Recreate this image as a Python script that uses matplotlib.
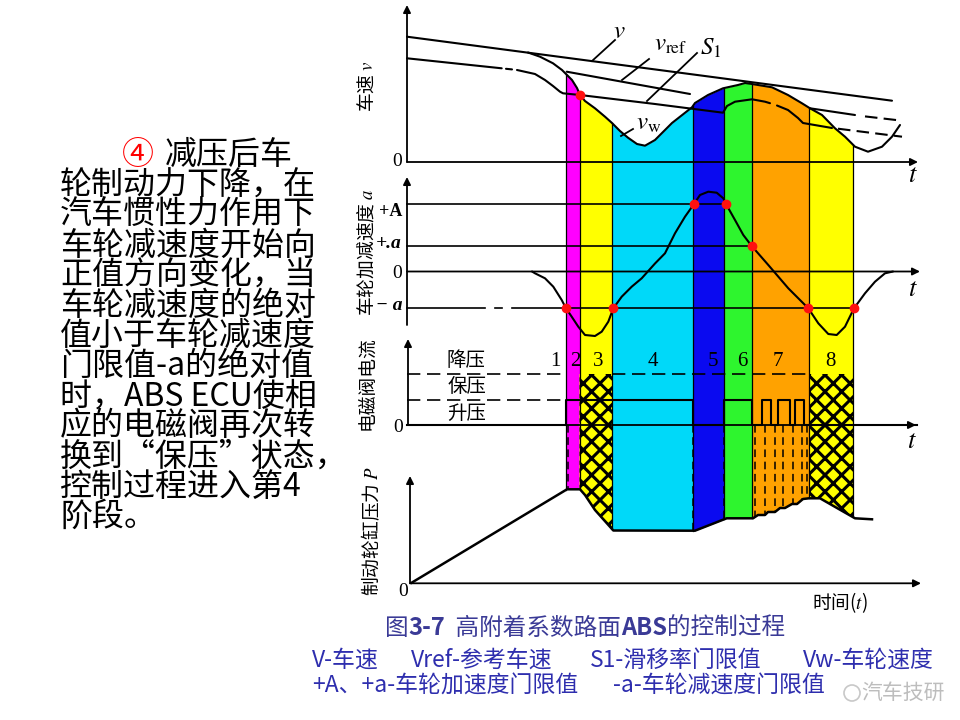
import numpy as np
import matplotlib
matplotlib.use("Agg")
import matplotlib.pyplot as plt
from matplotlib.patches import Circle
from matplotlib.offsetbox import TextArea, HPacker, AnnotationBbox

plt.rcParams['font.family'] = ['Noto Sans CJK SC', 'DejaVu Sans']
plt.rcParams['mathtext.fontset'] = 'stix'
plt.rcParams['hatch.linewidth'] = 2.2

# ---- data: t = time from the axis origin, values measured up from each panel's zero line
band_edges = [159, 172.5, 205, 286, 317, 345, 402, 446]
band_colors = ['#FF00FF', '#FFFF00', '#00D9F9', '#0A0AF0', '#2EF52E', '#FFA200', '#FFFF00']
phase_labels = ['1', '2', '3', '4', '5', '6', '7', '8']
phase_label_t = [148, 168, 191, 246, 306, 335, 371, 423]

# speed panel
v_t = [0, 485]
v_val = [125.3, 61.3]
vw_t = [121, 133, 146, 155, 160, 165, 170, 173, 178, 188, 198, 205, 213, 221, 230, 238, 248,
        265, 285, 288, 301, 316, 331, 338, 345, 365, 381, 395, 403, 415, 428, 438, 448, 461,
        475, 485, 493]
vw_val = [109.5, 105.3, 98.7, 92, 87, 82, 74, 67, 61, 53.7, 45.3, 39, 31, 24.3, 18, 16.3, 22,
          39, 54.7, 59, 67, 73.7, 77, 79, 78, 74.7, 67, 58.7, 53.7, 47, 33.7, 25.3, 15.3, 10.3,
          15.3, 25.3, 37]
vref_t = [159.7, 283]
vref_val = [90.3, 68]
vref2_t = [403, 448]
vref2_val = [53.7, 47]
vref2_tail_t = [458, 495]
vref2_tail_val = [45.6, 41.3]
s1_left_t = [0, 94.7]
s1_left_val = [103.7, 93.7]
s1_t = [110, 128, 138, 146, 153, 156, 173, 248, 316, 320, 328, 345, 358, 363]
s1_val = [92, 88, 82, 76, 70.3, 68.7, 67, 58, 49.3, 56, 60.3, 62.7, 60.3, 58.8]
s1_right_t = [370, 381, 391, 396, 425]
s1_right_val = [56.5, 52, 44, 39, 34]
s1_tail_t = [431, 495]
s1_tail_val = [33.3, 25.3]

# wheel acceleration panel
acc_t = [125, 128, 138, 146.3, 154.7, 159, 164.7, 171.3, 178, 188, 194.7, 201.3, 206.3, 214.7,
         224.7, 234.7, 248, 258, 268, 278, 287, 293, 301.3, 309.7, 316.3, 319, 328, 336.3,
         344.7, 361.3, 381.3, 394.7, 401.3, 411.3, 421.3, 429.7, 438, 447, 458, 468, 478, 486]
acc_val = [0, -1.8, -6.8, -15.2, -28.5, -36.8, -45.2, -55.2, -63.5, -64.5, -60.2, -50.2, -36.8,
           -25.2, -15.2, -6.8, 8, 18.2, 38.2, 54.8, 67.5, 76.5, 79.8, 78.8, 73.2, 67.5, 51.5,
           36.5, 25.5, 6.5, -16.8, -30.2, -36.8, -51.8, -62.5, -63.5, -55.2, -36.8, -21.8,
           -10.2, -1.8, 0]
thr_big_A = 67.5
thr_small_a = 25.5
thr_neg_a = -36.8
dot_t = [159, 206.3, 287, 319, 344.7, 401.3, 447]
dot_level = [thr_neg_a, thr_neg_a, thr_big_A, thr_big_A, thr_small_a, thr_neg_a, thr_neg_a]
speed_dot_t = [173]
speed_dot_val = [67]

# valve current panel
hold_level = 25
dec_level = 51
cur_switch_t = [0, 159, 286, 317, 345, 354.8, 364, 371.4, 382.5, 388, 397.3, 510]
cur_level = [0, hold_level, 0, hold_level, 0, hold_level, 0, hold_level, 0, hold_level, 0, 0]
pulse_t = [348, 358, 368, 376.3, 385.7, 394.7, 399.7]

# brake pressure panel
p_t = [4.5, 160, 173, 178, 188, 206.3, 288, 319.7, 346, 351, 358, 361, 368, 373, 378, 385, 390,
       396, 402, 413, 448, 465]
p_val = [0.5, 94, 94, 88.3, 73.3, 52.8, 52.6, 65, 65, 68.3, 68.3, 71.3, 71.3, 75.3, 75.3, 79.3,
         79.3, 84.3, 85, 85, 65, 64]

left_lines = ['轮制动力下降，在', '汽车惯性力作用下', '车轮减速度开始向', '正值方向变化，当',
              '车轮减速度的绝对', '值小于车轮减速度', '门限值-a的绝对值', '时，ABS ECU使相',
              '应的电磁阀再次转', '换到“保压”状态，', '控制过程进入第4', '阶段。']
legend_row1 = ['V-车速', 'Vref-参考车速', 'S1-滑移率门限值', 'Vw-车轮速度']
legend_row1_x = [312, 411, 590, 803]
legend_row2 = ['+A、+a-车轮加速度门限值', '-a-车轮减速度门限值']
legend_row2_x = [312, 613]

# ---- layout
T0 = 407
base_speed, base_acc, base_cur, base_p = 162, 271.5, 425, 583.3


def px(t):
    return T0 + np.asarray(t, dtype=float)


def py(base, v):
    return base - np.asarray(v, dtype=float)


fig = plt.figure(figsize=(9.6, 7.2), dpi=100)
ax = fig.add_axes([0, 0, 1, 1])
ax.set_xlim(0, 960)
ax.set_ylim(720, 0)
ax.axis('off')

# coloured phase bands, from wheel speed curve down to pressure curve
for i, c in enumerate(band_colors):
    tt = np.linspace(band_edges[i], band_edges[i + 1], 60)
    top = py(base_speed, np.interp(tt, vw_t, vw_val))
    bot = py(base_p, np.interp(tt, p_t, p_val))
    ax.fill_between(px(tt), top, bot, color=c, lw=0, zorder=1)

for i in (1, 6):
    tt = np.linspace(band_edges[i], band_edges[i + 1], 60)
    bot = py(base_p, np.interp(tt, p_t, p_val))
    ax.fill_between(px(tt), py(base_cur, dec_level), bot, facecolor='#FFFF00',
                    edgecolor='black', hatch='xx', lw=0, zorder=2)

for e in band_edges:
    top = py(base_speed, np.interp(e, vw_t, vw_val))
    bot = py(base_p, np.interp(e, p_t, p_val))
    ax.plot([px(e), px(e)], [top, bot], color='black', lw=0.9, zorder=3)

lk = dict(color='black', lw=1.5, zorder=4, solid_capstyle='round')
ak = dict(arrowstyle='-|>', lw=1.3, color='black', mutation_scale=11, shrinkA=0, shrinkB=0)

# speed panel
ax.plot(px(v_t), py(base_speed, v_val), **lk)
ax.plot(px(vw_t), py(base_speed, vw_val), **lk)
ax.plot(px(vref_t), py(base_speed, vref_val), **lk)
ax.plot(px(vref2_t), py(base_speed, vref2_val), **lk)
ax.plot(px(vref2_tail_t), py(base_speed, vref2_tail_val), ls=(0, (6, 3)), color='black', lw=1.5, zorder=4)
ax.plot(px(s1_left_t), py(base_speed, s1_left_val), **lk)
ax.plot(px([99, 105]), py(base_speed, [93.2, 92.6]), **lk)
ax.plot(px(s1_t), py(base_speed, s1_val), **lk)
ax.plot(px(s1_right_t), py(base_speed, s1_right_val), **lk)
ax.plot(px(s1_tail_t), py(base_speed, s1_tail_val), ls=(0, (6, 3)), color='black', lw=1.5, zorder=4)
ax.plot(px(speed_dot_t), py(base_speed, speed_dot_val), 'o', color='#FF1010', ms=6, zorder=6)
ax.annotate('', xy=(T0, 5), xytext=(T0, base_speed), arrowprops=ak)
ax.annotate('', xy=(918, base_speed), xytext=(T0, base_speed), arrowprops=ak)
ax.text(397, base_speed, '0', fontsize=14, family='Liberation Serif', ha='center', va='center')
ax.text(913, 174, '$t$', fontsize=19, ha='center', va='center')
ax.text(367, 86, '车速 $v$', fontsize=13.5, rotation=90, ha='center', va='center')
for (x0, y0, x1, y1) in [(615, 40, 592, 61), (649, 59, 622, 80), (697, 53, 647, 101), (633, 129, 621, 136)]:
    ax.plot([x0, x1], [y0, y1], color='black', lw=1.3, zorder=4)
ax.text(619, 31, '$v$', fontsize=18, ha='center', va='center')
ax.text(654, 44, r'$v_{\rm ref}$', fontsize=18, ha='left', va='center')
ax.text(700, 48, r'$S_{\rm 1}$', fontsize=18, ha='left', va='center')
ax.text(636, 123, r'$v_{\rm w}$', fontsize=18, ha='left', va='center')

# acceleration panel
ax.plot(px([0, 320]), py(base_acc, [thr_big_A] * 2), color='black', lw=1.2, zorder=3)
ax.plot(px([0, 345]), py(base_acc, [thr_small_a] * 2), color='black', lw=1.2, zorder=3)
ax.plot(px([0, 78]), py(base_acc, [thr_neg_a] * 2), color='black', lw=1.2, zorder=3)
ax.plot(px([88, 95]), py(base_acc, [thr_neg_a] * 2), color='black', lw=1.2, zorder=3)
ax.plot(px([105, 448]), py(base_acc, [thr_neg_a] * 2), color='black', lw=1.2, zorder=3)
ax.annotate('', xy=(920, base_acc), xytext=(T0, base_acc), arrowprops=ak)
ax.annotate('', xy=(T0, 177), xytext=(T0, 325), arrowprops=ak)
ax.plot(px(acc_t), py(base_acc, acc_val), **lk)
ax.plot(px(dot_t), py(base_acc, dot_level), 'o', color='#FF1010', ms=6, zorder=6)
ax.text(402, 211, '+A', fontsize=13, family='Liberation Serif', weight='bold', ha='right', va='center')
ax.text(402, 244, '+.a', fontsize=14, family='Liberation Serif', weight='bold', style='italic', ha='right', va='center')
ax.text(397, 273, '0', fontsize=14, family='Liberation Serif', ha='center', va='center')
ax.text(402, 305, '− a', fontsize=14, family='Liberation Serif', weight='bold', style='italic', ha='right', va='center')
ax.text(913, 288, '$t$', fontsize=19, ha='center', va='center')
ax.text(367, 252, '车轮加减速度 $a$', fontsize=13.5, rotation=90, ha='center', va='center')

# valve current panel
dk = dict(color='black', lw=1.2, ls=(0, (8, 4)), zorder=3)
ax.plot(px([0, 159]), py(base_cur, [dec_level] * 2), **dk)
ax.plot(px([205, 402]), py(base_cur, [dec_level] * 2), **dk)
ax.plot(px([0, 159]), py(base_cur, [hold_level] * 2), **dk)
ax.step(px(cur_switch_t), py(base_cur, cur_level), where='post', color='black', lw=1.5, zorder=3)
ax.annotate('', xy=(916, base_cur), xytext=(T0, base_cur), arrowprops=ak)
ax.annotate('', xy=(408, 339), xytext=(408, base_cur), arrowprops=ak)
ax.text(398, 427, '0', fontsize=14, family='Liberation Serif', ha='center', va='center')
ax.text(912, 441, '$t$', fontsize=19, ha='center', va='center')
ax.text(466, 361, '降压', fontsize=14, ha='center', va='center')
ax.text(467, 387, '保压', fontsize=14, ha='center', va='center')
ax.text(467, 413, '升压', fontsize=14, ha='center', va='center')
for lab, t in zip(phase_labels, phase_label_t):
    ax.text(px(t), 361, lab, fontsize=15, family='Liberation Serif', ha='center', va='center', zorder=5)
ax.text(367, 383, '电磁阀电流', fontsize=13.5, rotation=90, ha='center', va='center')

# pressure panel
vk = dict(color='black', lw=1.1, ls=(0, (5, 3)), zorder=3)
for t in [161, 286, 317] + pulse_t:
    ax.plot([px(t)] * 2, [base_cur, py(base_p, np.interp(t, p_t, p_val))], **vk)
ax.plot(px(p_t), py(base_p, p_val), color='black', lw=1.8, zorder=4)
ax.annotate('', xy=(921, base_p), xytext=(410, base_p), arrowprops=ak)
ax.annotate('', xy=(410, 476), xytext=(410, base_p), arrowprops=ak)
ax.text(403, 591, '0', fontsize=14, family='Liberation Serif', ha='center', va='center')
ax.text(840, 603, '时间($t$)', fontsize=13.5, ha='center', va='center')
ax.text(372, 531, '制动轮缸压力 $P$', fontsize=13.5, rotation=90, ha='center', va='center')

# caption
cap_col = '#3A3A96'
parts = [('图', 'normal'), ('3-7', 'bold'), ('  高附着系数路面', 'normal'), ('ABS', 'bold'), ('的控制过程', 'normal')]
boxes = [TextArea(s, textprops=dict(fontsize=17, color=cap_col, weight=w)) for s, w in parts]
cap = HPacker(children=boxes, pad=0, sep=0, align='baseline')
ax.add_artist(AnnotationBbox(cap, (585, 628), xycoords='data', frameon=False, box_alignment=(0.5, 0.5)))

leg_col = '#2E2EAE'
for s, x in zip(legend_row1, legend_row1_x):
    ax.text(x, 660, s, fontsize=16.5, color=leg_col, ha='left', va='center')
for s, x in zip(legend_row2, legend_row2_x):
    ax.text(x, 686, s, fontsize=16.5, color=leg_col, ha='left', va='center')
ax.add_patch(Circle((852, 693), 8, fill=False, ec='#C8C8C8', lw=1.2, zorder=7))
ax.text(903, 693, '汽车技研', fontsize=15, color='#BDBDBD', ha='center', va='center', zorder=7)

# left explanatory text
ax.text(122, 155, '④', fontsize=23, color='#FF0000', ha='left', va='center')
ax.text(165, 155, '减压后车', fontsize=23, ha='left', va='center')
for i, line in enumerate(left_lines):
    ax.text(60, 185.2 + 30.15 * i, line, fontsize=23, ha='left', va='center')

fig.savefig('out.png', dpi=100)
